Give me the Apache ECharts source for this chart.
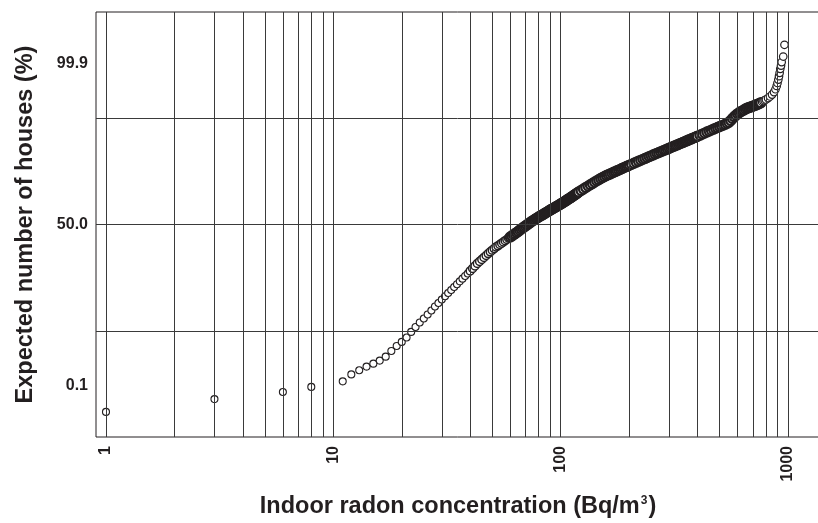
<!DOCTYPE html>
<html>
<head>
<meta charset="utf-8">
<script src="https://cdn.jsdelivr.net/npm/echarts@6/dist/echarts.min.js"></script>
<style>
html,body{margin:0;padding:0;background:#fff;}
#chart{width:818px;height:523px;}
</style>
</head>
<body>
<div id="chart"></div>
<script>
// Indoor radon concentration (Bq/m3) of each plotted point
const concentration = [
1,3,6,8,
11,12,13,14,15,16,17,18,19,20,21,22,23,24,25,26,27,28,29,30,
31,32,33,34,35,36,37,38,39,40,41,42,43,44,45,46,47,48,49,50,
51,52,53,54,55,56,57,58,59,60,61,62,63,64,65,66,67,68,69,70,
71,72,73,74,75,76,77,78,79,80,81,82,83,84,85,86,87,88,89,90,
91,92,93,94,95,96,97,98,99,100,101,102,103,104,105,106,107,108,109,110,
111,112,113,114,115,116,117,118,119,120,
123,126,129,132,135,138,141,144,147,150,153,156,159,162,165,168,171,174,177,180,
183,186,189,192,195,198,201,
205,210,215,220,225,230,235,240,245,250,255,260,265,270,275,280,285,290,295,300,
305,310,315,320,325,330,335,340,345,350,355,360,365,370,375,380,385,390,395,400,
410,420,430,440,450,460,470,480,490,500,510,520,530,540,550,560,570,580,590,600,
610,620,630,640,650,660,670,680,690,700,710,720,730,740,750,760,770,780,790,800,
817,834,851,868,881,892,899,907,913,919,925,932,938,953,965
];
// Expected number of houses (%) — cumulative percentage for each point
const expectedPercent = [
0.016,0.040,0.065,0.091,
0.130,0.200,0.257,0.318,0.377,0.448,0.559,0.760,0.985,1.21,1.50,1.96,2.46,3.00,3.56,4.21,4.94,5.78,6.59,7.50,
8.42,9.43,10.44,11.51,12.59,13.75,14.92,16.16,17.35,18.61,19.92,21.29,22.71,23.89,25.09,26.33,27.59,28.83,30.02,31.09,
32.19,33.30,34.13,35.06,35.98,36.85,37.79,38.67,39.63,40.52,41.34,42.16,42.99,43.82,44.73,45.64,46.48,47.32,48.09,48.85,
49.62,50.38,51.15,51.91,52.60,53.29,53.90,54.51,55.12,55.72,56.25,56.78,57.31,57.84,58.37,58.89,59.41,59.93,60.45,60.96,
61.40,61.84,62.28,62.72,63.15,63.58,64.02,64.45,64.88,65.30,65.73,66.15,66.57,66.99,67.41,67.82,68.27,68.71,69.08,69.45,
69.85,70.25,70.68,71.11,71.47,71.83,72.22,72.60,72.99,73.37,
74.30,75.22,76.12,76.94,77.75,78.49,79.21,79.92,80.50,81.14,81.65,82.20,82.70,83.04,83.42,83.85,84.22,84.54,84.90,85.22,
85.53,85.88,86.17,86.47,86.76,87.00,87.29,
87.60,88.02,88.41,88.78,89.10,89.46,89.77,90.07,90.38,90.63,90.92,91.17,91.41,91.62,91.85,92.08,92.27,92.47,92.66,92.84,
93.02,93.20,93.36,93.52,93.67,93.81,93.98,94.11,94.25,94.38,94.51,94.63,94.76,94.86,94.98,95.10,95.19,95.29,95.40,95.49,
95.69,95.88,96.04,96.22,96.36,96.50,96.64,96.76,96.88,97.00,97.09,97.19,97.30,97.41,97.53,97.70,97.90,98.07,98.21,98.32,
98.41,98.49,98.55,98.61,98.67,98.72,98.75,98.78,98.81,98.84,98.88,98.90,98.94,98.96,99.00,99.03,99.07,99.11,99.15,99.18,
99.24,99.30,99.37,99.45,99.53,99.61,99.67,99.73,99.78,99.82,99.86,99.886,99.909,99.937,99.972
];
// Y tick labels (probability scale) and horizontal grid positions (%)
const yTickPercents = [0.1, 50, 99.9];
const yTickLabels = ['0.1', '50.0', '99.9'];
const yGridPercents = [2.07, 50, 97.93];
// X tick labels and vertical grid positions (Bq/m3)
const xTickLabels = ['1', '10', '100', '1000'];
const xGridValues = [1,2,3,4,5,6,7,8,9,10,20,30,40,50,60,70,80,90,100,200,300,400,500,600,700,800,900,1000];

// inverse of the standard normal CDF (probability-paper transform)
function probit(p){
  const a=[-3.969683028665376e+01,2.209460984245205e+02,-2.759285104469687e+02,1.383577518672690e+02,-3.066479806614716e+01,2.506628277459239e+00];
  const b=[-5.447609879822406e+01,1.615858368580409e+02,-1.556989798598866e+02,6.680131188771972e+01,-1.328068155288572e+01];
  const c=[-7.784894002430293e-03,-3.223964580411365e-01,-2.400758277161838e+00,-2.549732539343734e+00,4.374664141464968e+00,2.938163982698783e+00];
  const d=[7.784695709041462e-03,3.224671290700398e-01,2.445134137142996e+00,3.754408661907416e+00];
  const pl=0.02425, ph=1-pl;
  let q,r;
  if(p<pl){q=Math.sqrt(-2*Math.log(p));return (((((c[0]*q+c[1])*q+c[2])*q+c[3])*q+c[4])*q+c[5])/((((d[0]*q+d[1])*q+d[2])*q+d[3])*q+1);}
  if(p>ph){q=Math.sqrt(-2*Math.log(1-p));return -(((((c[0]*q+c[1])*q+c[2])*q+c[3])*q+c[4])*q+c[5])/((((d[0]*q+d[1])*q+d[2])*q+d[3])*q+1);}
  q=p-0.5;r=q*q;
  return (((((a[0]*r+a[1])*r+a[2])*r+a[3])*r+a[4])*r+a[5])*q/(((((b[0]*r+b[1])*r+b[2])*r+b[3])*r+b[4])*r+1);
}

const INK = '#231f20';
const FONT = '"Liberation Sans", Arial, Helvetica, sans-serif';
const yTickZ = yTickPercents.map(p => probit(p/100));
const points = concentration.map((x, i) => [x, probit(expectedPercent[i]/100)]);
// split only for drawing: sparse low tail, transition, dense body (heavily overlapping marks), sparse upper tail
const lowPts = points.filter(p => p[0] < 40);
const midPts = points.filter(p => p[0] >= 40 && p[0] < 60);
const bodyPts = points.filter(p => p[0] >= 60 && p[0] <= 760);
const topPts = points.filter(p => p[0] > 760);

function pointSeries(data, size, bw){
  return {
    type: 'scatter', z: 3, silent: true,
    symbol: 'circle', symbolSize: size,
    itemStyle: {color: '#ffffff', borderColor: INK, borderWidth: bw, opacity: 1},
    data: data
  };
}

const chart = echarts.init(document.getElementById('chart'), null, {renderer:'canvas'});
chart.setOption({
  animation: false,
  backgroundColor: '#ffffff',
  grid: {left: 96, top: 12, right: -2, bottom: 86, show: true, borderColor: INK, borderWidth: 1, backgroundColor: 'transparent', containLabel: false, outerBoundsMode: 'none'},
  xAxis: {
    type: 'log', logBase: 10, min: 0.9038, max: 1383,
    axisLine: {show: false}, axisTick: {show: false}, splitLine: {show: false},
    axisLabel: {
      rotate: 90, margin: 9, fontSize: 16, fontWeight: 'bold', color: INK, fontFamily: FONT,
      showMinLabel: false, showMaxLabel: false,
      formatter: function(v){
        const l = Math.log10(v), r = Math.round(l);
        if (Math.abs(l - r) < 1e-6 && r >= 0 && r < xTickLabels.length) return xTickLabels[r];
        return '';
      }
    },
    name: '{t|Indoor radon concentration (Bq/m}{s|3}{t|)}',
    nameLocation: 'middle', nameGap: 58,
    nameTextStyle: {
      rich: {
        t: {fontSize: 23.5, fontWeight: 'bold', color: INK, fontFamily: FONT},
        s: {fontSize: 12, fontWeight: 'bold', color: INK, fontFamily: FONT, verticalAlign: 'top', padding: [0, 1, 0, 1]}
      }
    }
  },
  yAxis: {
    type: 'value', min: -4.08, max: 4.08,
    axisLine: {show: false}, axisTick: {show: false}, splitLine: {show: false},
    axisLabel: {
      customValues: yTickZ, margin: 8, fontSize: 16, fontWeight: 'bold', color: INK, fontFamily: FONT,
      formatter: function(v){
        for (let i = 0; i < yTickZ.length; i++) if (Math.abs(v - yTickZ[i]) < 1e-3) return yTickLabels[i];
        return '';
      }
    },
    name: 'Expected number of houses (%)',
    nameLocation: 'middle', nameGap: 58,
    nameTextStyle: {fontSize: 23.5, fontWeight: 'bold', color: INK, fontFamily: FONT}
  },
  series: [
    {
      type: 'scatter', z: 1, silent: true, symbolSize: 0,
      data: [[1, 0]],
      itemStyle: {opacity: 0},
      markLine: {
        silent: true, symbol: ['none', 'none'], label: {show: false},
        lineStyle: {type: 'solid', color: '#3a3a3a', width: 1},
        emphasis: {disabled: true},
        data: xGridValues.map(v => ({xAxis: v})).concat(yGridPercents.map(p => ({yAxis: probit(p/100)})))
      }
    },
    pointSeries(lowPts, 7, 1.1),
    pointSeries(midPts, 8, 1.5),
    pointSeries(bodyPts, 9, 2.3),
    pointSeries(topPts, 7.5, 1.2)
  ]
});
</script>
</body>
</html>
